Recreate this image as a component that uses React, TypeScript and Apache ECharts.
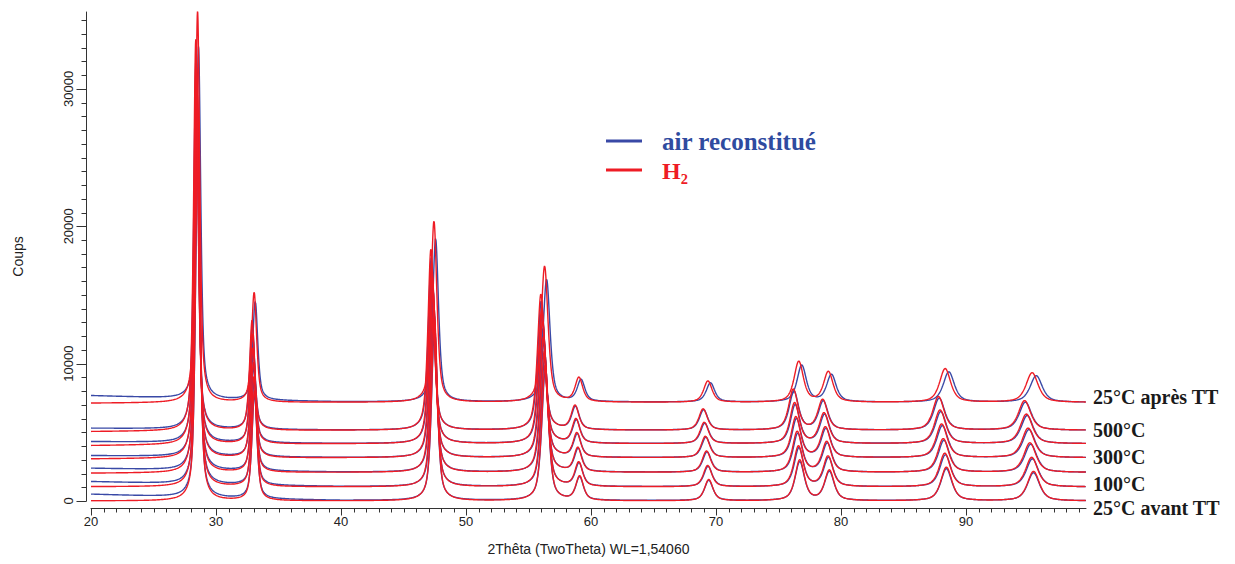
import React, { useEffect, useRef } from "react";
import * as echarts from "echarts";

// ---- Data (XRD patterns, CeO2-like) ----
const levels = ["25°C avant TT", "100°C", "200°C", "300°C", "400°C", "500°C", "25°C après TT"];
const labelledLevels = ["25°C après TT", "500°C", "300°C", "100°C", "25°C avant TT"];
const seriesNames = ["air reconstitué", "H₂"];

// peak positions at 25°C (2θ), heights above background (counts), FWHM (deg)
const peakPos = [28.55, 33.08, 47.48, 56.34, 59.09, 69.42, 76.7, 79.07, 88.43, 95.4];
const peakHeight = [28500, 8000, 13200, 9900, 1750, 1550, 2950, 2200, 2450, 2150];
const peakFwhm = [0.42, 0.48, 0.56, 0.66, 0.72, 0.8, 0.88, 0.9, 1.05, 1.15];
const lorentzFraction = 0.65;

// flat background of each level (counts), low-angle excess at 20°
const baseLevel = [0, 1020, 2080, 3150, 4170, 5150, 7180];
const lowAngleExcessAir = [490, 390, 300, 150, 150, 145, 490];
const lowAngleExcessH2 = [0, 20, -60, -90, -140, -100, -60];
const bgAnchorX = [20, 25, 31, 40, 100];
const bgAnchorWeight = [1, 0.7, 0.35, 0.08, 0];

// peak shift coefficients (deg, multiplied by tanθ) and intensity scale
const shiftAir = [0, 0.08, 0.2, 0.33, 0.46, 0.59, -0.2];
const shiftH2 = [0, 0.13, 0.26, 0.39, 0.52, 0.65, 0.1];
const scaleAir = [0.95, 0.95, 0.95, 0.95, 0.95, 0.95, 0.9];
const scaleH2 = [1, 1, 1, 1, 1, 1, 1];

const xMajorTicks = [20, 30, 40, 50, 60, 70, 80, 90];
const yMajorTicks = [0, 10000, 20000, 30000];
const xMinorStep = 1;
const yMinorStep = 1000;

const X_MIN = 20;
const X_MAX = 99.6;
const Y_MAX = 35600;
const STEP = 0.02;

function bgWeight(x: number): number {
  for (let i = 0; i < bgAnchorX.length - 1; i++) {
    const a = bgAnchorX[i], b = bgAnchorX[i + 1];
    if (x >= a && x <= b) {
      const t = (x - a) / (b - a);
      return bgAnchorWeight[i] + t * (bgAnchorWeight[i + 1] - bgAnchorWeight[i]);
    }
  }
  return 0;
}

function pattern(base: number, excess: number, k: number, scale: number): number[][] {
  const centers = peakPos.map((p) => p - k * Math.tan((p / 2) * Math.PI / 180));
  const pts: number[][] = [];
  const n = Math.round((X_MAX - X_MIN) / STEP);
  const ln2 = Math.log(2);
  for (let i = 0; i <= n; i++) {
    const x = X_MIN + i * STEP;
    let y = base + excess * bgWeight(x);
    for (let j = 0; j < peakPos.length; j++) {
      const d = (x - centers[j]) / peakFwhm[j];
      const d2 = d * d;
      const L = 1 / (1 + 4 * d2);
      const G = Math.exp(-4 * ln2 * d2);
      y += scale * peakHeight[j] * (lorentzFraction * L + (1 - lorentzFraction) * G);
    }
    pts.push([+x.toFixed(2), Math.round(y)]);
  }
  return pts;
}

const BLUE = "#3949a6";
const RED = "#ee1c25";
const AXIS = "#333";
const SANS = "'Liberation Sans', Arial, sans-serif";
const SERIF = "'Liberation Serif', 'Times New Roman', serif";

const X_AXIS_OFFSET = 7;
const Y_AXIS_OFFSET = 5;

export default function App() {
  const ref = useRef<HTMLDivElement>(null);
  useEffect(() => {
    if (!ref.current) return;
    const chart = echarts.init(ref.current, undefined, { renderer: "svg" });

    const series: any[] = [];
    levels.forEach((lv, i) => {
      series.push({
        name: seriesNames[0] + " " + lv,
        type: "line",
        data: pattern(baseLevel[i], lowAngleExcessAir[i], shiftAir[i], scaleAir[i]),
        showSymbol: false,
        symbol: "none",
        silent: true,
        clip: true,
        lineStyle: { color: BLUE, width: 1.4 },
        z: 2,
      });
    });
    levels.forEach((lv, i) => {
      series.push({
        name: seriesNames[1] + " " + lv,
        type: "line",
        data: pattern(baseLevel[i], lowAngleExcessH2[i], shiftH2[i], scaleH2[i]),
        showSymbol: false,
        symbol: "none",
        silent: true,
        clip: true,
        lineStyle: { color: RED, width: 1.4 },
        z: 3,
      });
    });

    const labelY: Record<string, number> = {
      "25°C après TT": 397,
      "500°C": 430,
      "300°C": 457,
      "100°C": 484,
      "25°C avant TT": 508,
    };

    const graphics: any[] = [
      { type: "line", shape: { x1: 606, y1: 141, x2: 642, y2: 141 }, style: { stroke: BLUE, lineWidth: 3 } },
      { type: "line", shape: { x1: 606, y1: 170, x2: 642, y2: 170 }, style: { stroke: RED, lineWidth: 3 } },
      {
        type: "text", x: 662, y: 141,
        style: { text: seriesNames[0], fill: "#2f4b9f", font: `bold 25px ${SERIF}`, textVerticalAlign: "middle" },
      },
      {
        type: "text", x: 662, y: 171,
        style: { text: seriesNames[1], fill: RED, font: `bold 24px ${SERIF}`, textVerticalAlign: "middle" },
      },
      ...labelledLevels.map((t) => ({
        type: "text", x: 1093, y: labelY[t],
        style: { text: t, fill: "#1a1a1a", font: `bold 20px ${SERIF}`, textVerticalAlign: "middle" },
      })),
    ];

    chart.setOption({
      animation: false,
      backgroundColor: "#ffffff",
      grid: { left: 91, right: 149, top: 12, bottom: 63 },
      xAxis: {
        type: "value", min: X_MIN, max: X_MAX, interval: 10, offset: X_AXIS_OFFSET,
        name: "2Thêta (TwoTheta) WL=1,54060", nameLocation: "middle", nameGap: 34,
        nameTextStyle: { fontFamily: SANS, fontSize: 14, color: "#222" },
        axisLine: { show: true, onZero: false, lineStyle: { color: AXIS, width: 1 } },
        axisTick: { show: false },
        axisLabel: { show: true, margin: 7, fontFamily: SANS, fontSize: 13, color: "#222", customValues: xMajorTicks, formatter: (v: number) => String(v) },
        splitLine: { show: false },
      },
      yAxis: {
        type: "value", min: 0, max: Y_MAX, interval: 10000, offset: Y_AXIS_OFFSET,
        name: "Coups", nameLocation: "middle", nameGap: 61,
        nameTextStyle: { fontFamily: SANS, fontSize: 14, color: "#222" },
        axisLine: { show: true, onZero: false, lineStyle: { color: AXIS, width: 1 } },
        axisTick: { show: false },
        axisLabel: { show: true, rotate: 90, margin: 11, fontFamily: SANS, fontSize: 13, color: "#222", customValues: yMajorTicks, formatter: (v: number) => String(v) },
        splitLine: { show: false },
      },
      series,
    });

    // axis ticks placed through the chart's own scales
    const tickEls: any[] = [];
    const tickStyle = { stroke: AXIS, lineWidth: 1 };
    const xLeft = chart.convertToPixel({ xAxisIndex: 0 }, X_MIN) as number;
    const yZero = chart.convertToPixel({ yAxisIndex: 0 }, 0) as number;
    const yAxisX = Math.round(xLeft) - Y_AXIS_OFFSET + 0.5;
    const xAxisY = Math.round(yZero) + X_AXIS_OFFSET + 0.5;
    for (let v = 0; v <= Y_MAX; v += yMinorStep) {
      const yy = Math.round(chart.convertToPixel({ yAxisIndex: 0 }, v) as number) + 0.5;
      const len = yMajorTicks.indexOf(v) >= 0 ? 10 : 5;
      tickEls.push({
        type: "line", silent: true, z: 50,
        shape: { x1: yAxisX - len, y1: yy, x2: yAxisX, y2: yy },
        style: tickStyle,
      });
    }
    for (let v = X_MIN; v <= X_MAX; v += xMinorStep) {
      const xx = Math.round(chart.convertToPixel({ xAxisIndex: 0 }, v) as number) + 0.5;
      const len = xMajorTicks.indexOf(v) >= 0 ? 7 : 4;
      tickEls.push({
        type: "line", silent: true, z: 50,
        shape: { x1: xx, y1: xAxisY, x2: xx, y2: xAxisY + len },
        style: tickStyle,
      });
    }

    chart.setOption({ graphic: [...graphics, ...tickEls] });

    return () => chart.dispose();
  }, []);

  return (
    <div
      ref={ref}
      style={{ position: "fixed", left: 0, top: 0, width: 1235, height: 564, background: "#fff" }}
    />
  );
}
